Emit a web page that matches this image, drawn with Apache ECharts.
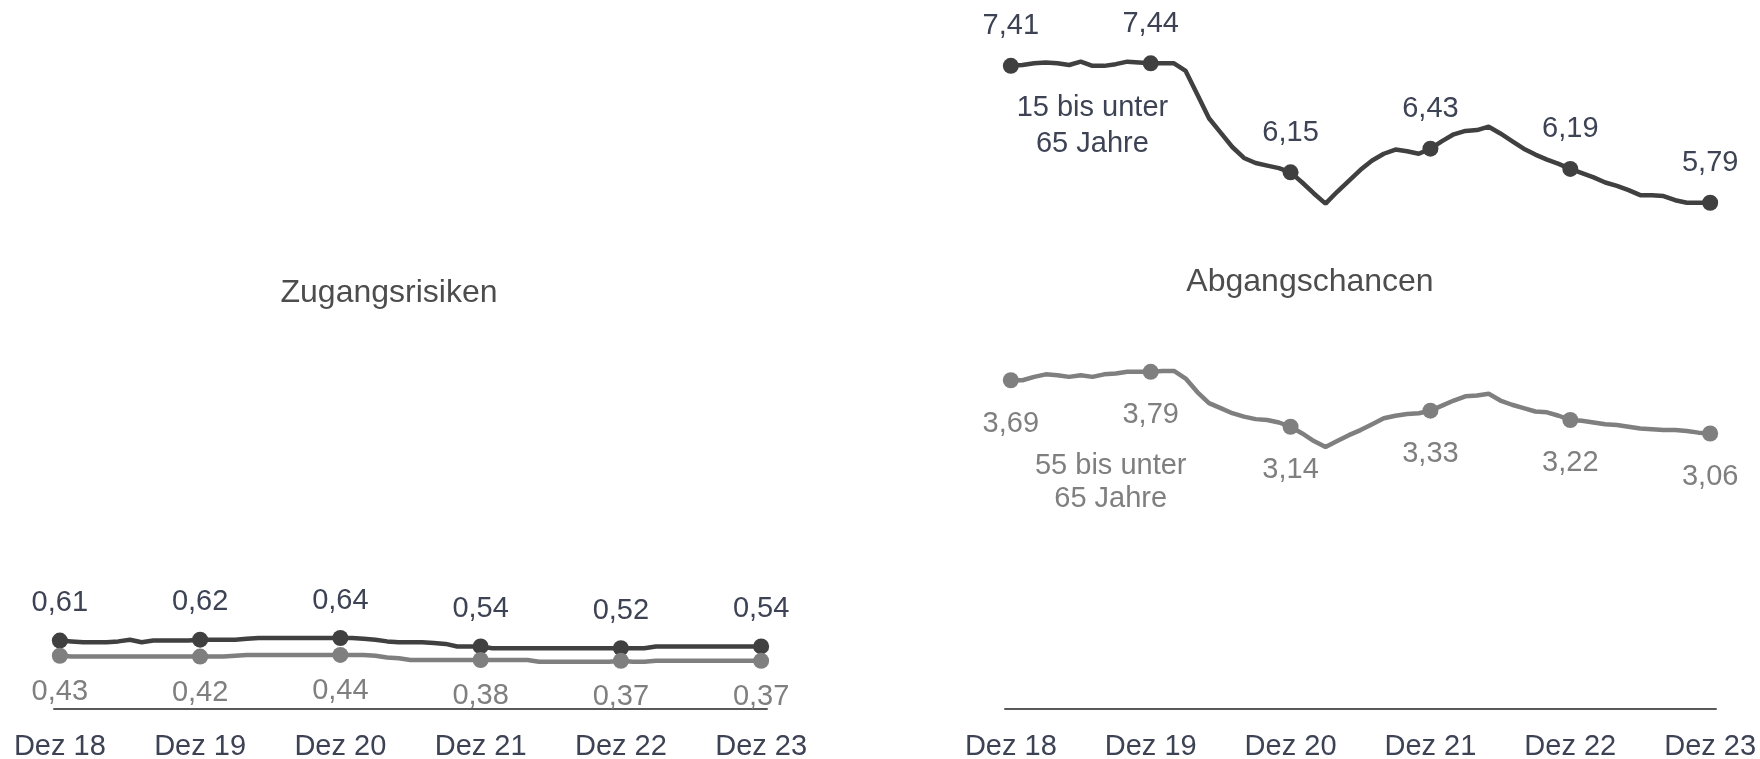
<!DOCTYPE html>
<html>
<head>
<meta charset="utf-8">
<script src="https://cdn.jsdelivr.net/npm/echarts@6/dist/echarts.min.js"></script>
<style>
  html, body { margin: 0; padding: 0; background: #ffffff; }
  #chart { width: 1760px; height: 759px; }
</style>
</head>
<body>
<div id="chart"></div>
<script>
// Monthly categories from Dez 18 to Dez 23
const MONTHS = ['Jan', 'Feb', 'Mär', 'Apr', 'Mai', 'Jun', 'Jul', 'Aug', 'Sep', 'Okt', 'Nov', 'Dez'];
const categories = [];
for (let k = 0; k < 61; k++) {
  categories.push(MONTHS[(11 + k) % 12] + ' ' + (18 + Math.floor((11 + k) / 12)));
}
const tickLabels = ['Dez 18', 'Dez 19', 'Dez 20', 'Dez 21', 'Dez 22', 'Dez 23'];

const panelTitles = ['Zugangsrisiken', 'Abgangschancen'];
const groupNames = ['15 bis unter\n65 Jahre', '55 bis unter\n65 Jahre'];

// Zugangsrisiken, 15 bis unter 65 Jahre
const zugang15 = [
  0.61, 0.60, 0.59, 0.59, 0.59, 0.60, 0.62, 0.59, 0.61, 0.61, 0.61, 0.61,
  0.62, 0.62, 0.62, 0.62, 0.63, 0.64, 0.64, 0.64, 0.64, 0.64, 0.64, 0.64,
  0.64, 0.64, 0.63, 0.62, 0.60, 0.59, 0.59, 0.59, 0.58, 0.57, 0.54, 0.54,
  0.54, 0.52, 0.52, 0.52, 0.52, 0.52, 0.52, 0.52, 0.52, 0.52, 0.52, 0.52,
  0.52, 0.52, 0.52, 0.54, 0.54, 0.54, 0.54, 0.54, 0.54, 0.54, 0.54, 0.54,
  0.54
];
// Zugangsrisiken, 55 bis unter 65 Jahre
const zugang55 = [
  0.43, 0.42, 0.42, 0.42, 0.42, 0.42, 0.42, 0.42, 0.42, 0.42, 0.42, 0.42,
  0.42, 0.42, 0.42, 0.43, 0.44, 0.44, 0.44, 0.44, 0.44, 0.44, 0.44, 0.44,
  0.44, 0.44, 0.44, 0.43, 0.41, 0.40, 0.38, 0.38, 0.38, 0.38, 0.38, 0.38,
  0.38, 0.38, 0.38, 0.38, 0.38, 0.36, 0.36, 0.36, 0.36, 0.36, 0.36, 0.36,
  0.37, 0.36, 0.36, 0.37, 0.37, 0.37, 0.37, 0.37, 0.37, 0.37, 0.37, 0.37,
  0.37
];
// Abgangschancen, 15 bis unter 65 Jahre
const abgang15 = [
  7.41, 7.42, 7.44, 7.45, 7.44, 7.42, 7.46, 7.41, 7.41, 7.43, 7.46, 7.45,
  7.44, 7.44, 7.44, 7.35, 7.07, 6.79, 6.62, 6.45, 6.32, 6.26, 6.23, 6.20,
  6.15, 6.03, 5.90, 5.78, 5.92, 6.05, 6.18, 6.29, 6.37, 6.42, 6.40, 6.37,
  6.43, 6.52, 6.60, 6.64, 6.65, 6.69, 6.61, 6.52, 6.43, 6.36, 6.30, 6.25,
  6.19, 6.14, 6.09, 6.03, 5.99, 5.94, 5.88, 5.88, 5.87, 5.82, 5.79, 5.79,
  5.79
];
// Abgangschancen, 55 bis unter 65 Jahre
const abgang55 = [
  3.69, 3.69, 3.73, 3.76, 3.75, 3.73, 3.75, 3.73, 3.76, 3.77, 3.79, 3.79,
  3.79, 3.80, 3.80, 3.71, 3.55, 3.42, 3.36, 3.30, 3.26, 3.23, 3.22, 3.19,
  3.14, 3.06, 2.97, 2.90, 2.97, 3.04, 3.10, 3.17, 3.24, 3.27, 3.29, 3.30,
  3.33, 3.39, 3.45, 3.50, 3.51, 3.53, 3.45, 3.40, 3.36, 3.32, 3.31, 3.27,
  3.22, 3.21, 3.19, 3.17, 3.16, 3.14, 3.12, 3.11, 3.10, 3.10, 3.09, 3.07,
  3.06
];

const FONT = '"Liberation Sans", Arial, Helvetica, sans-serif';
const LABEL_SIZE = 29;
const DARK = '#404040';
const GREY = '#7f7f7f';
const DARK_TEXT = '#3d4354';
const GREY_TEXT = '#7f7f7f';

const fmt = v => v.toFixed(2).replace('.', ',');

// Data items: markers and value labels only on the December points,
// plus an optional group caption hung on one point of the line.
function buildItems(values, note) {
  return values.map((v, i) => {
    const key = i % 12 === 0;
    const item = { value: v, symbolSize: key ? 16 : 0 };
    if (key) item.label = { show: true };
    if (note && i === note.index) {
      item.label = {
        show: true,
        position: 'bottom',
        distance: note.distance,
        offset: note.offset || [0, 0],
        formatter: note.text,
        lineHeight: note.lineHeight,
        fontSize: LABEL_SIZE,
        fontFamily: FONT,
        color: note.color
      };
    }
    return item;
  });
}

function lineSeries(idx, values, color, textColor, pos, dist, note) {
  return {
    type: 'line',
    xAxisIndex: idx,
    yAxisIndex: idx,
    data: buildItems(values, note),
    symbol: 'circle',
    showSymbol: true,
    showAllSymbol: true,
    smooth: false,
    lineStyle: { color: color, width: 4.5 },
    itemStyle: { color: color },
    label: {
      show: false,
      position: pos,
      distance: dist,
      fontSize: LABEL_SIZE,
      fontFamily: FONT,
      color: textColor,
      formatter: p => fmt(p.value)
    },
    emphasis: { disabled: true },
    silent: true
  };
}

function xAxis(idx) {
  return {
    type: 'category',
    gridIndex: idx,
    data: categories,
    boundaryGap: true,
    axisLine: { show: true, onZero: false, lineStyle: { color: '#595959', width: 2 } },
    axisTick: { show: false },
    splitLine: { show: false },
    axisLabel: {
      interval: (i, val) => tickLabels.indexOf(val) >= 0,
      margin: 23,
      fontSize: LABEL_SIZE,
      fontFamily: FONT,
      color: DARK_TEXT
    }
  };
}

function yAxis(idx) {
  return {
    type: 'value',
    gridIndex: idx,
    min: -0.2,
    max: 8,
    show: false,
    splitLine: { show: false }
  };
}

const chart = echarts.init(document.getElementById('chart'), null, { renderer: 'canvas' });

chart.setOption({
  backgroundColor: '#ffffff',
  animation: false,
  grid: [
    { left: 54, right: 993, top: 16, bottom: 50, containLabel: false, outerBoundsMode: 'none' },
    { left: 1005, right: 44, top: 16, bottom: 50, containLabel: false, outerBoundsMode: 'none' }
  ],
  xAxis: [xAxis(0), xAxis(1)],
  yAxis: [yAxis(0), yAxis(1)],
  graphic: [
    {
      type: 'text', x: 389, y: 293, silent: true,
      style: { text: panelTitles[0], font: '32px ' + FONT, fill: '#4d4d4d',
               align: 'center', verticalAlign: 'middle', textAlign: 'center', textVerticalAlign: 'middle' }
    },
    {
      type: 'text', x: 1310, y: 282, silent: true,
      style: { text: panelTitles[1], font: '32px ' + FONT, fill: '#4d4d4d',
               align: 'center', verticalAlign: 'middle', textAlign: 'center', textVerticalAlign: 'middle' }
    }
  ],
  series: [
    lineSeries(0, zugang15, DARK, DARK_TEXT, 'top', 15),
    lineSeries(0, zugang55, GREY, GREY_TEXT, 'bottom', 14),
    lineSeries(1, abgang15, DARK, DARK_TEXT, 'top', 17,
      { index: 7, text: groupNames[0], distance: 24, lineHeight: 36, color: DARK_TEXT }),
    lineSeries(1, abgang55, GREY, GREY_TEXT, 'bottom', 21,
      { index: 9, text: groupNames[1], distance: 76, lineHeight: 33, offset: [-5, 0], color: GREY_TEXT })
  ]
});
</script>
</body>
</html>
